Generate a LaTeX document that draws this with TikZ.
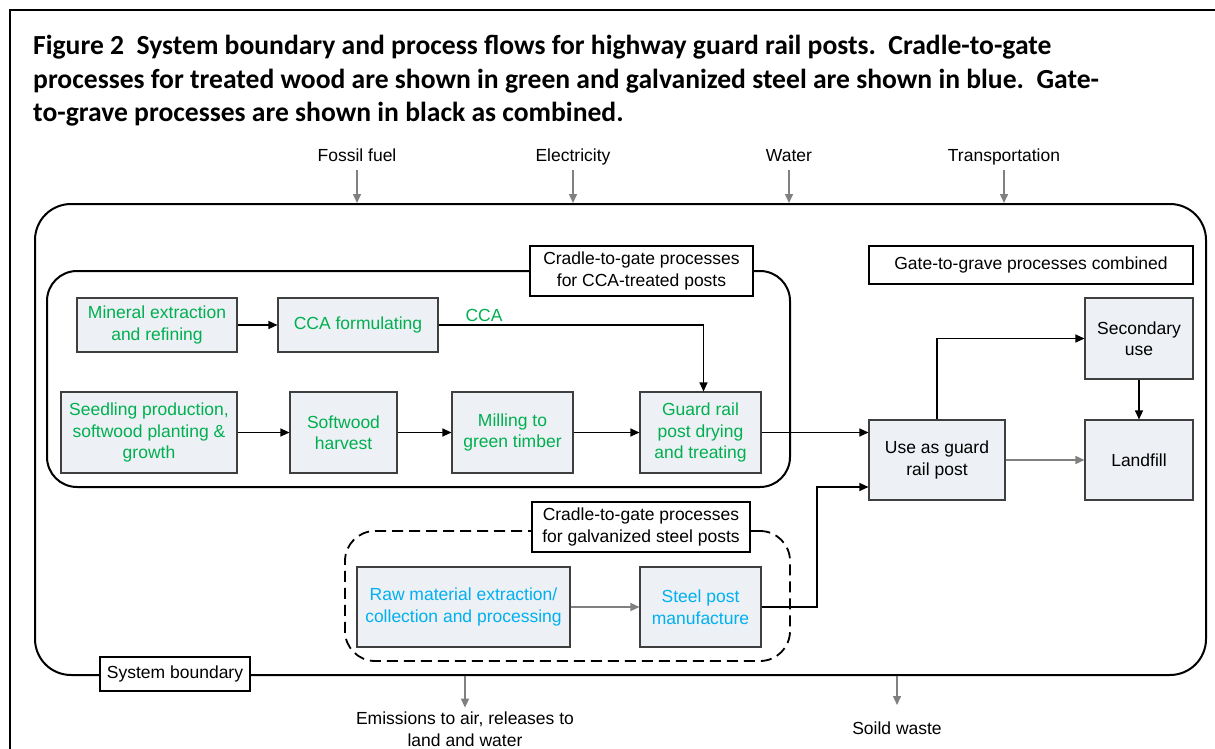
\documentclass[tikz,border=0pt]{standalone}
\usepackage{fontspec}
\setmainfont{Liberation Sans}
\newfontfamily\titlefont{Carlito}
\usetikzlibrary{arrows.meta,calc}
\definecolor{wgreen}{HTML}{00B050}
\definecolor{sblue}{HTML}{00B0F0}
\definecolor{boxfill}{HTML}{EDF0F4}
\definecolor{boxline}{HTML}{3F3F3F}
\definecolor{arrgray}{HTML}{808080}
\begin{document}
\begin{tikzpicture}[x=1pt,y=-1pt,
  every node/.style={font=\fontsize{17.5}{21.5}\selectfont, align=center, inner sep=0pt},
  proc/.style={draw=boxline, fill=boxfill, line width=1.1pt},
  lbl/.style={draw=black, fill=white, line width=1.1pt},
  conn/.style={draw=black, line width=1.1pt, -{Triangle[length=9pt,width=8pt]}},
  gconn/.style={draw=arrgray, line width=1.5pt, -{Triangle[length=9pt,width=8pt]}},
  container/.style={draw=black, line width=2pt},
  inlbl/.style={anchor=base}
]
\useasboundingbox (0,0) rectangle (1215,749);
\fill[white] (0,0) rectangle (1215,749);
% outer frame
\draw[line width=2.5pt] (10,749) -- (10,10) -- (1216,10);
% title
\node[anchor=north west, align=left, font=\titlefont\bfseries\fontsize{27.6}{33.5}\selectfont] (title) at (33,35)
 {Figure 2\ \ System boundary and process flows for highway guard rail posts.\ \ Cradle-to-gate\\
  processes for treated wood are shown in green and galvanized steel are shown in blue.\ \ Gate-\\
  to-grave processes are shown in black as combined.};

% system boundary
\node[container, rounded corners=36pt, minimum width=1171pt, minimum height=471pt] (sb) at (620.5,439.5) {};
% inputs
\node[inlbl] (ff) at (357,161) {Fossil fuel};
\node[inlbl] (el) at (573,161) {Electricity};
\node[inlbl] (wa) at (789,161) {Water};
\node[inlbl] (tr) at (1004,161) {Transportation};
\foreach \n in {ff,el,wa,tr}
  \draw[gconn] ($(\n.base)+(0,9)$) -- (\n.base |- sb.north);
% outputs
\node (em) at (465,729) {Emissions to air, releases to\\land and water};
\node[inlbl] (sw) at (897,734) {Soild waste};
\draw[gconn] (em.north |- sb.south) -- ([yshift=4pt]em.north);
\draw[gconn] (sw.base |- sb.south) -- ($(sw.base)+(0,-29)$);
\node[lbl, minimum width=150pt, minimum height=34pt] (sbl) at (175,674) {System boundary};

% CCA container
\node[container, rounded corners=30pt, minimum width=743pt, minimum height=216pt] (ccabox) at (418.5,379) {};
\node[lbl, minimum width=223pt, minimum height=50pt] (ccalbl) at (641.5,271) {Cradle-to-gate processes\\for CCA-treated posts};

% gate-to-grave label
\node[lbl, minimum width=324pt, minimum height=38pt] (ggl) at (1031,265) {Gate-to-grave processes combined};

% steel container
\node[draw=black, line width=1.8pt, dash pattern=on 11pt off 6pt, rounded corners=30pt, minimum width=445pt, minimum height=130pt] (stbox) at (567.5,596) {};
\node[lbl, minimum width=218pt, minimum height=50pt] (stlbl) at (641,527) {Cradle-to-gate processes\\for galvanized steel posts};

% wood processes
\node[proc, text=wgreen, minimum width=160pt, minimum height=54pt] (min) at (157,325) {Mineral extraction\\and refining};
\node[proc, text=wgreen, minimum width=160pt, minimum height=54pt] (ccaf) at (358,325) {CCA formulating};
\node[text=wgreen] (ccatxt) at (484,315) {CCA};
\node[proc, text=wgreen, minimum width=176pt, minimum height=81pt] (seed) at (149,432.5) {Seedling production,\\softwood planting \&\\growth};
\node[proc, text=wgreen, minimum width=107pt, minimum height=81pt] (soft) at (343.5,432.5) {Softwood\\harvest};
\node[proc, text=wgreen, minimum width=121pt, minimum height=81pt] (mill) at (512.5,432.5) {Milling to\\green timber};
\node[proc, text=wgreen, minimum width=121pt, minimum height=81pt] (grd) at (700.5,432.5) {Guard rail\\post drying\\and treating};

% steel processes
\node[proc, text=sblue, minimum width=213pt, minimum height=80pt] (raw) at (463.5,607) {Raw material extraction/\\collection and processing};
\node[proc, text=sblue, minimum width=121pt, minimum height=80pt] (stl) at (700.5,607) {Steel post\\manufacture};

% gate to grave
\node[proc, minimum width=136pt, minimum height=80pt] (use) at (937,460) {Use as guard\\rail post};
\node[proc, minimum width=108pt, minimum height=81pt] (sec) at (1139,338.5) {Secondary\\use};
\node[proc, minimum width=108pt, minimum height=80pt] (lf) at (1139,460) {Landfill};

% connectors
\draw[conn] (min) -- (ccaf);
\draw[conn] (ccaf.east) -| ([xshift=3pt]grd.north);
\draw[conn] (seed) -- (soft);
\draw[conn] (soft) -- (mill);
\draw[conn] (mill) -- (grd);
\draw[conn] (grd.east) -- (grd.east -| use.west);
\draw[conn] (use.north) |- (sec.west);
\draw[conn] (sec) -- (lf);
\draw[gconn] (use) -- (lf);
\draw[gconn] (raw) -- (stl);
\coordinate (j1) at (817,487);
\draw[conn] (stl.east) -| (j1) -- (j1 -| use.west);
\end{tikzpicture}
\end{document}
